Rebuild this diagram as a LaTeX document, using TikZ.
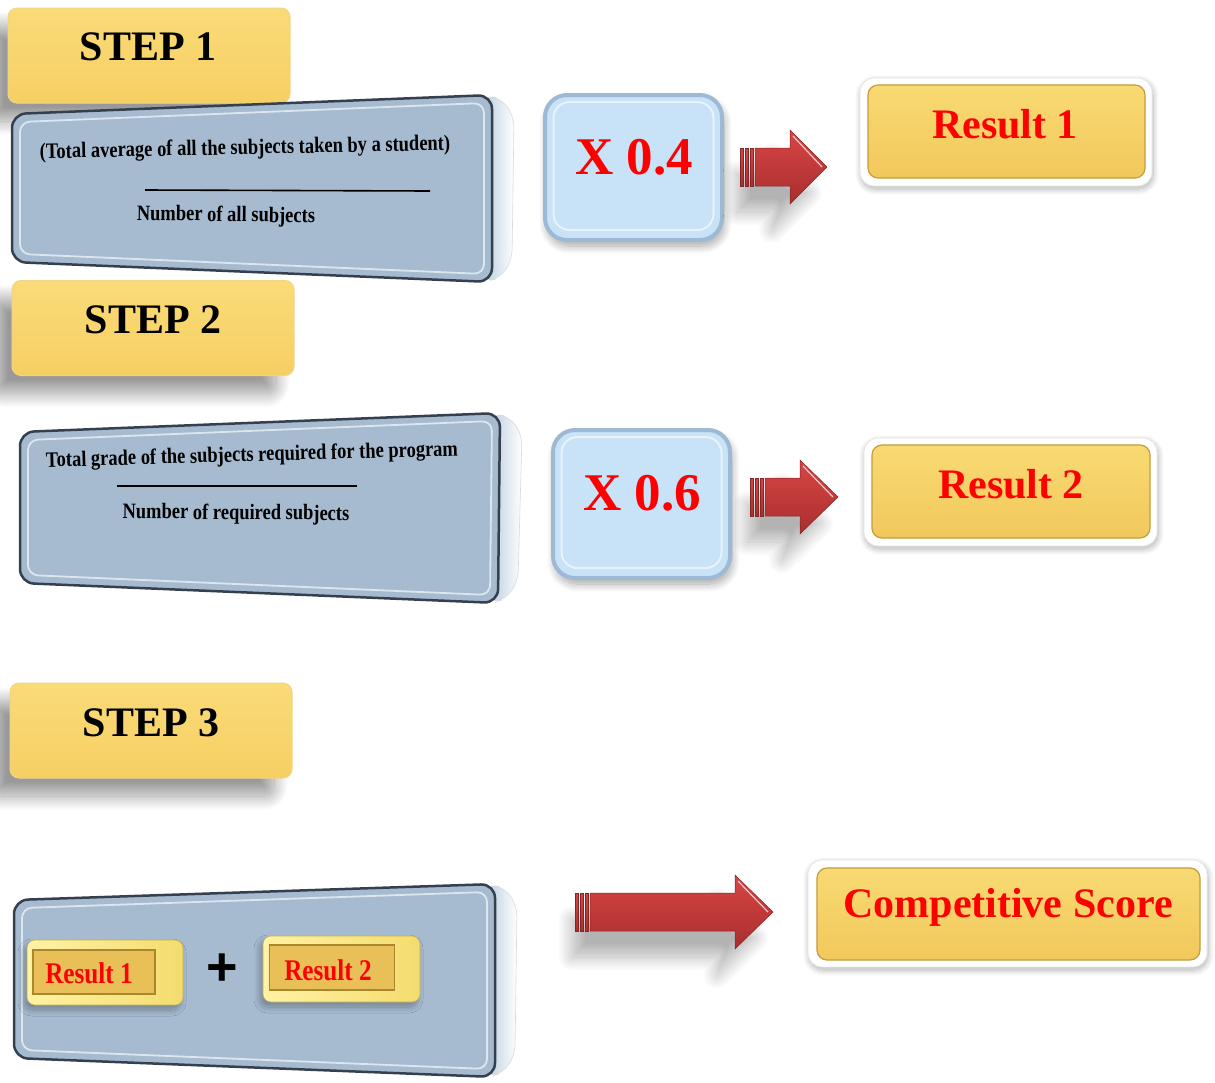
\documentclass[tikz,border=0pt]{standalone}
\usepackage{fontspec}
\setmainfont{Liberation Serif}
\newfontfamily\narrowserif[FakeStretch=0.84]{Liberation Serif}
\newfontfamily\plusfont{Liberation Sans}
\usetikzlibrary{shadows,shadows.blur,calc}

\definecolor{stepTop}{HTML}{FADB78}
\definecolor{stepBot}{HTML}{F6CF62}
\definecolor{stepEdge}{HTML}{F0D58A}
\definecolor{panelFill}{HTML}{A6BBD0}
\definecolor{panelDark}{HTML}{34404E}
\definecolor{panelLight}{HTML}{DCE6F0}
\definecolor{multFill}{HTML}{C8E2F8}
\definecolor{multEdge}{HTML}{9EB9D3}
\definecolor{multInner}{HTML}{E8F3FC}
\definecolor{resTop}{HTML}{F8DA72}
\definecolor{resBot}{HTML}{F2C85C}
\definecolor{resEdge}{HTML}{C49C3A}
\definecolor{arrowTop}{HTML}{D94545}
\definecolor{arrowBot}{HTML}{A82E2E}
\definecolor{btnOuter}{HTML}{FFF2A4}
\definecolor{btnSide}{HTML}{F4DC6E}
\definecolor{btnInner}{HTML}{E9BF58}
\definecolor{btnEdge}{HTML}{A8872E}
\definecolor{redtext}{HTML}{FF0000}

\tikzset{
  stepbox/.style={rounded corners=9pt, top color=stepTop, bottom color=stepBot,
    draw=stepEdge, line width=1pt, minimum width=282pt, minimum height=95pt,
    blur shadow={shadow xshift=-18pt, shadow yshift=-18pt, shadow opacity=40, shadow blur radius=14pt, shadow blur steps=20}},
  steptext/.style={font=\fontsize{42}{42}\selectfont\bfseries, text=black},
  multbox/.style={rounded corners=22pt, fill=multFill, draw=multEdge, line width=4pt,
    minimum width=177pt, minimum height=145pt,
    blur shadow={shadow xshift=2pt, shadow yshift=-6pt, shadow opacity=35, shadow blur radius=8pt, shadow blur steps=14}},
  multinner/.style={rounded corners=16pt, draw=multInner, line width=2pt},
  multtext/.style={font=\fontsize{53}{53}\selectfont\bfseries, text=redtext},
  resouter/.style={rounded corners=14pt, fill=white, draw=gray!20, line width=0.8pt,
    blur shadow={shadow xshift=1pt, shadow yshift=-3pt, shadow opacity=30, shadow blur radius=6pt, shadow blur steps=12}},
  resinner/.style={rounded corners=10pt, top color=resTop, bottom color=resBot,
    draw=resEdge, line width=1.2pt},
  restext/.style={font=\fontsize{42}{42}\selectfont\bfseries, text=redtext},
  paneltext/.style={font=\narrowserif\fontsize{22}{22}\selectfont\bfseries, text=black, inner sep=0pt},
  face/.style={fill=panelFill, draw=panelDark, line width=2.5pt, rounded corners=14pt},
  faceinner/.style={draw=panelLight, line width=1.8pt, rounded corners=10pt},
  slab/.style={left color=multEdge!70!white, right color=white, draw=gray!30, line width=0.6pt, rounded corners=10pt},
  arrowbody/.style={top color=arrowTop, bottom color=arrowBot, draw=arrowBot!80!black, line width=0.5pt},
  arrowshadow/.style={blur shadow={shadow xshift=-18pt, shadow yshift=-26pt, shadow opacity=30, shadow blur radius=14pt, shadow blur steps=20}},
  btnout/.style={rounded corners=8pt, left color=btnOuter, right color=btnSide, draw=btnSide!80!black, line width=0.6pt,
    blur shadow={shadow xshift=-3pt, shadow yshift=-5pt, shadow opacity=30, shadow blur radius=6pt, shadow blur steps=12}},
  btnin/.style={fill=btnInner, draw=btnEdge, line width=1.2pt},
  btntext/.style={font=\narrowserif\fontsize{30}{30}\selectfont\bfseries, text=redtext},
}

% panel: TL TR BR BL
\newcommand\slabpanel[8]{%
  \path[slab] (#3-8,#4) -- (#3+10,#4+4) -- (#3+22,#4+22) -- (#5+20,#6-22) -- (#5+8,#6-4) -- (#5-8,#6) -- cycle;
  \path[face] (#1,#2) -- (#3,#4) -- (#5,#6) -- (#7,#8) -- cycle;
  \path[faceinner] (#1+8,#2+8) -- (#3-8,#4+8) -- (#5-8,#6-8) -- (#7+8,#8-8) -- cycle;
}

% arrow: start x, head base x, tip x, center y, shaft half, head half
\newcommand\redarrow[6]{%
  \path[arrowbody, arrowshadow] (#1+15,#4-#5) -- (#2,#4-#5) -- (#2,#4-#6) -- (#3,#4) -- (#2,#4+#6) -- (#2,#4+#5) -- (#1+15,#4+#5) -- cycle;
  \path[arrowbody] (#1,#4-#5) rectangle (#1+3,#4+#5);
  \path[arrowbody] (#1+5,#4-#5) rectangle (#1+8,#4+#5);
  \path[arrowbody] (#1+10,#4-#5) rectangle (#1+13,#4+#5);
  \draw[white!70!arrowTop, line width=1.2pt] (#2+3,#4-#6+6) -- (#3-5,#4);
}

\begin{document}
\begin{tikzpicture}[x=1pt,y=-1pt]
\useasboundingbox (0,0) rectangle (1215,1082);

% ---------- STEP 1 ----------
\node[stepbox] (s1) at (149,55.5) {};
\node[steptext] (s1t) at (148,47) {STEP 1};

\slabpanel{12}{114}{492}{95}{492}{282}{12}{262}
\node[paneltext, rotate=1.2] (p1a) at (245,149) {(Total average of all the subjects taken by a student)};
\coordinate (l1a) at (145,190);
\coordinate (l1b) at (430,191);
\draw[line width=1.6pt] (l1a) -- (l1b);
\node[paneltext, rotate=-0.8] (p1b) at (226,216) {Number of all subjects};

\node[multbox] (m1) at (633.5,167.5) {};
\node[multinner, minimum width=160pt, minimum height=128pt] (m1i) at (633.5,166) {};
\node[multtext] (m1t) at (634,157) {X 0.4};

\redarrow{740}{790}{827}{167}{19}{37}

\node[resouter, minimum width=292pt, minimum height=108pt] (r1o) at (1006,132) {};
\node[resinner, minimum width=277pt, minimum height=93pt] (r1) at (1006.5,131.5) {};
\node[restext] (r1t) at (1005,124) {Result 1};

% ---------- STEP 2 ----------
\node[stepbox] (s2) at (153,328) {};
\node[steptext] (s2t) at (153,320) {STEP 2};

\slabpanel{20}{432}{500}{413}{498}{603}{20}{583}
\node[paneltext, rotate=1.6] (p2a) at (252,456) {Total grade of the subjects required for the program};
\coordinate (l2a) at (117,486);
\coordinate (l2b) at (357,486);
\draw[line width=1.8pt] (l2a) -- (l2b);
\node[paneltext, rotate=-0.5] (p2b) at (236,514) {Number of required subjects};

\node[multbox, minimum height=148pt] (m2) at (641.5,504) {};
\node[multinner, minimum width=160pt, minimum height=131pt] (m2i) at (641.5,502.5) {};
\node[multtext] (m2t) at (642,493) {X 0.6};

\redarrow{750}{800}{838}{497}{19}{37}

\node[resouter, minimum width=293pt, minimum height=108pt] (r2o) at (1010.5,492) {};
\node[resinner, minimum width=278pt, minimum height=93pt] (r2) at (1011,491.5) {};
\node[restext] (r2t) at (1011,484) {Result 2};

% ---------- STEP 3 ----------
\node[stepbox] (s3) at (151,730.5) {};
\node[steptext] (s3t) at (151,723) {STEP 3};

\slabpanel{14}{900}{495}{884}{495}{1077}{14}{1058}

\node[btnout, minimum width=156pt, minimum height=65pt] (b1o) at (105,972.5) {};
\node[btnin, minimum width=122pt, minimum height=44pt] (b1) at (94,972) {};
\node[btntext] (b1t) at (89,973) {Result 1};

\node[font=\plusfont\bfseries\fontsize{54}{54}\selectfont, text=black] (plus) at (222,970) {+};

\node[btnout, minimum width=157pt, minimum height=66pt] (b2o) at (341.5,969) {};
\node[btnin, minimum width=125pt, minimum height=45pt] (b2) at (332,967.5) {};
\node[btntext] (b2t) at (328,970) {Result 2};

\redarrow{575}{735}{773}{912}{19}{37}

\node[resouter, minimum width=399pt, minimum height=107pt] (cso) at (1007.5,913.5) {};
\node[resinner, minimum width=383pt, minimum height=92pt] (cs) at (1008.5,914) {};
\node[restext] (cst) at (1008,907) {Competitive Score};

\end{tikzpicture}
\end{document}
